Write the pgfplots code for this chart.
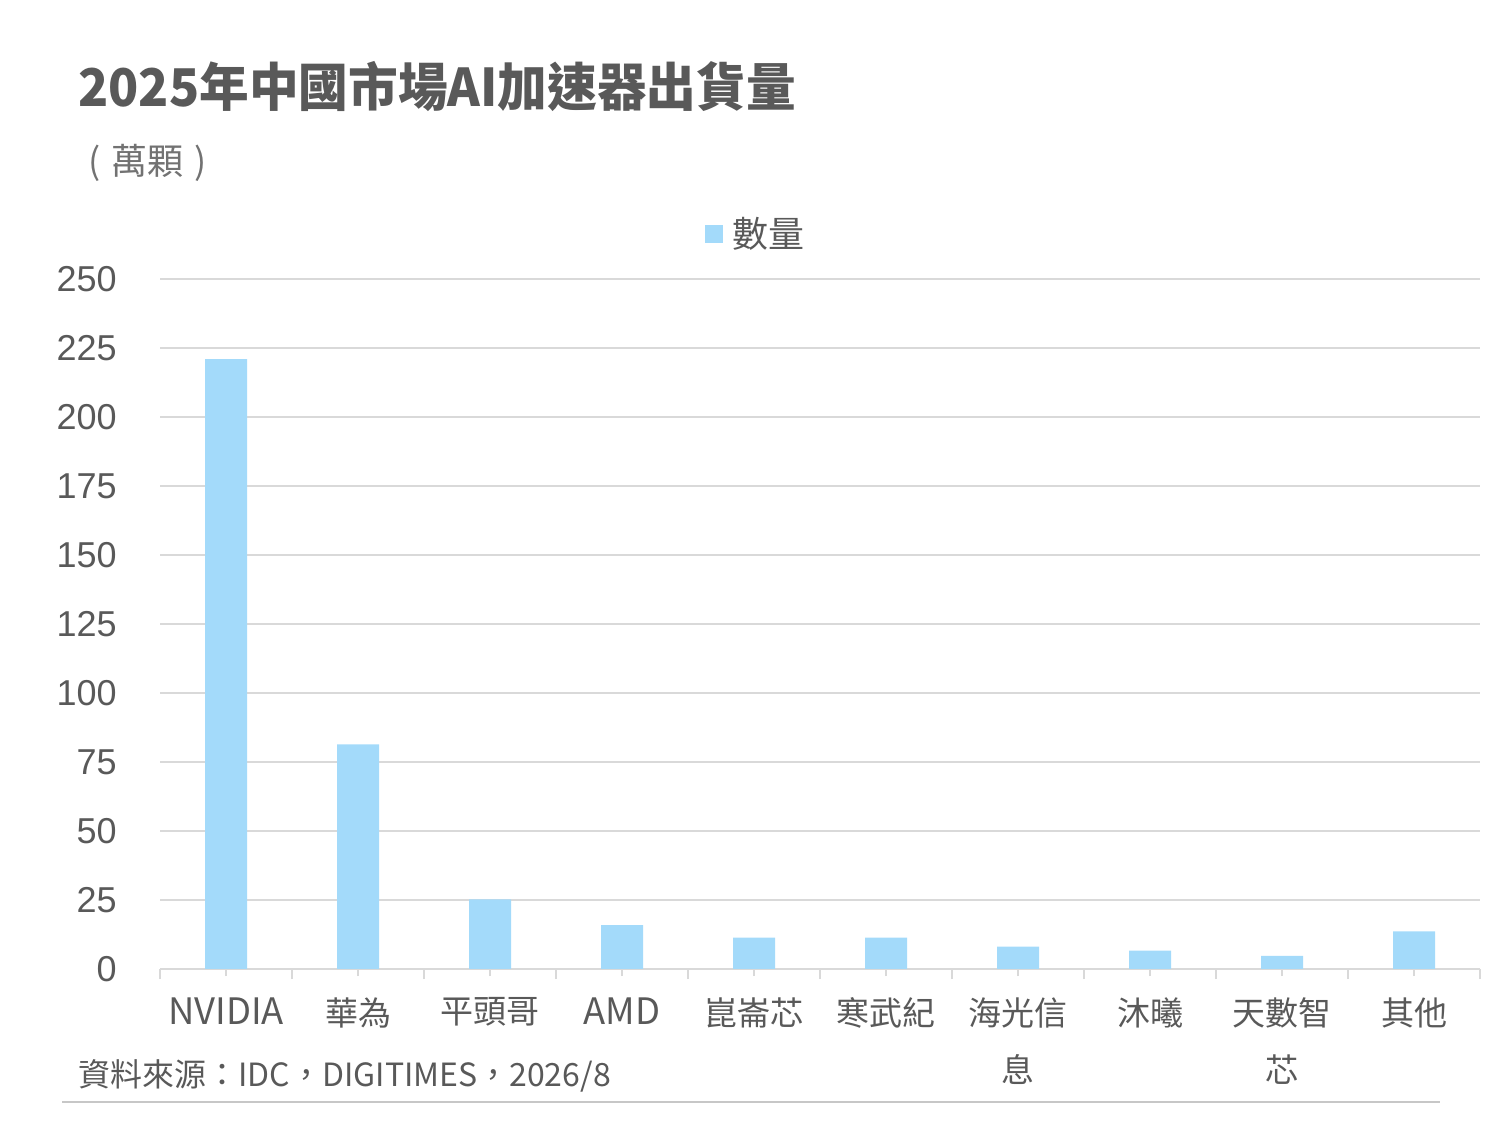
\documentclass[border=0pt]{standalone}
\usepackage{fontspec}
\usepackage{pgfplots}
\pgfplotsset{compat=1.18}
\setmainfont{Liberation Sans}
\newfontfamily\cjk{Noto Sans CJK TC}
\newfontfamily\cjkt{Noto Sans CJK TC}[FakeStretch=0.955]
\definecolor{barc}{HTML}{A3DAFA}
\definecolor{txt}{HTML}{595959}
\definecolor{grd}{HTML}{D9D9D9}
\newcommand\lat[1]{{\fontsize{18.2}{18.2}\selectfont #1}}
\begin{document}
\begin{tikzpicture}
\path[use as bounding box] (0,0) rectangle (750pt,562.5pt);
\node[anchor=base west, inner sep=0pt, text=txt, font=\cjkt\bfseries\fontsize{26}{26}\selectfont] at (39pt,509pt) {2025年中國市場AI加速器出貨量};
\node[anchor=base west, inner sep=0pt, text=txt!85, font=\cjk\fontsize{18}{18}\selectfont] at (44pt,475pt) {(\hspace{0.3em}萬顆\hspace{0.3em})};
\node[anchor=base west, inner sep=0pt, text=txt, font=\cjk\fontsize{16}{16}\selectfont] at (39pt,19.5pt) {資料來源：IDC，DIGITIMES，2026/8};
\draw[color=grd!80!gray, line width=0.6pt] (31pt,11.5pt) -- (720pt,11.5pt);
\begin{axis}[
  at={(80pt,78pt)}, anchor=south west,
  scale only axis, width=660pt, height=345pt,
  xmin=-0.5, xmax=9.5, ymin=0, ymax=250,
  ytick={0,25,...,250},
  ymajorgrids, grid style={color=grd, line width=0.7pt},
  axis line style={draw=none},
  ytick style={draw=none},
  xtick={0,...,9},
  xticklabels={\lat{NVIDIA},華為,平頭哥,\lat{AMD},崑崙芯,寒武紀,{海光信\\息},沐曦,{天數智\\芯},其他},
  xtick pos=bottom,
  xtick style={color=grd, line width=0.7pt},
  major tick length=3.5pt, tick align=inside,
  extra x ticks={-0.5,0.5,...,9.5},
  extra x tick labels={},
  extra x tick style={tick align=outside, major tick length=5pt, xmajorgrids=false, ymajorgrids=false},
  yticklabel style={font=\fontsize{18}{18}\selectfont, text=txt, anchor=east, inner sep=0pt, xshift=-21.5pt},
  /pgf/number format/assume math mode=true,
  xticklabel style={font=\cjk\fontsize{16.5}{28.5}\selectfont, text=txt, align=center, anchor=north, inner sep=0pt, yshift=-10.5pt},
  ybar, bar width=21pt,
  legend style={at={(0.452,1.065)}, anchor=center, draw=none, fill=none, font=\cjk\fontsize{18}{18}\selectfont, text=txt},
  legend image code/.code={\fill[barc] (0pt,-4.5pt) rectangle (9pt,4.5pt); \path (12pt,0pt);},
]
\addplot[fill=barc, draw=none] coordinates {(0,221) (1,81.4) (2,25.2) (3,15.9) (4,11.4) (5,11.4) (6,8.1) (7,6.7) (8,4.8) (9,13.6)};
\addlegendentry{數量}
\end{axis}
\end{tikzpicture}
\end{document}
